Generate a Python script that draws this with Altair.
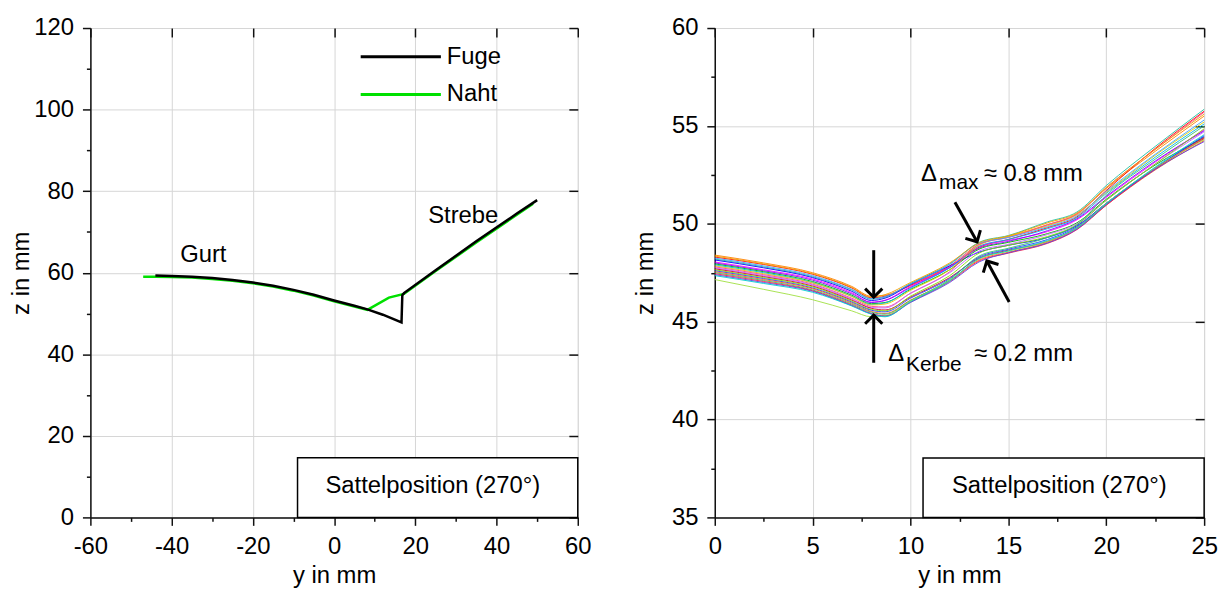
import altair as alt
import pandas as pd

FONT = "Liberation Sans"

# ---------------- Left panel data ----------------
fuge_y = [-44, -40, -35, -30, -25, -20, -15, -10, -5, 0, 5, 8.2, 12, 16.6, 16.8, 17.2, 25, 35, 45, 50]
fuge_z = [59.3, 59.2, 59.0, 58.7, 58.2, 57.6, 56.8, 55.8, 54.6, 53.2, 51.9, 51.0, 49.7, 47.8, 54.5, 55.0, 60.6, 67.7, 74.5, 77.8]
naht_y = [-47, -44, -40, -35, -30, -25, -20, -15, -10, -5, 0, 5, 8.2, 13.5, 17.2, 25, 35, 45, 49]
naht_z = [59.0, 59.0, 58.95, 58.8, 58.45, 58.0, 57.4, 56.6, 55.6, 54.4, 53.0, 51.7, 50.9, 53.9, 54.8, 60.4, 67.4, 74.2, 76.9]
series_names = ["Fuge", "Naht"]
series_colors = ["#000000", "#00e000"]

left_labels = ["Gurt", "Strebe"]
left_label_y = [-32.2, 31.8]
left_label_z = [64.4, 73.8]

left_x_major = [-60, -40, -20, 0, 20, 40, 60]
left_x_minor = [-50, -30, -10, 10, 30, 50]
left_y_major = [0, 20, 40, 60, 80, 100, 120]
left_y_minor = [10, 30, 50, 70, 90, 110]

left_box = {"y": [-9.0], "y2": [60.0], "z": [0.0], "z2": [14.6]}
left_box_text = {"y": [24.3], "z": [7.8], "t": ["Sattelposition (270°)"]}

# ---------------- Right panel data ----------------
run_y = [0, 2.5, 5, 7, 8, 8.7, 10, 12, 13.5, 15, 17, 18.5, 20, 22.5, 25]
runs = [
    [48.40, 48.00, 47.50, 46.80, 46.30, 46.35, 46.90, 47.85, 48.95, 49.35, 49.95, 50.50, 51.80, 53.70, 55.50],
    [48.30, 47.92, 47.42, 46.72, 46.22, 46.30, 46.85, 47.80, 48.80, 49.20, 49.80, 50.35, 51.70, 53.85, 55.75],
    [48.20, 47.80, 47.30, 46.62, 46.15, 46.25, 46.95, 47.95, 49.05, 49.40, 50.10, 50.60, 51.95, 53.95, 55.85],
    [48.15, 47.75, 47.25, 46.55, 46.08, 46.20, 46.90, 47.85, 48.55, 48.90, 49.30, 49.90, 51.05, 52.85, 54.45],
    [48.05, 47.65, 47.18, 46.48, 46.00, 46.10, 46.80, 47.80, 48.85, 49.15, 49.60, 50.20, 51.35, 53.15, 54.80],
    [48.00, 47.60, 47.12, 46.42, 45.98, 46.08, 46.75, 47.75, 48.75, 49.10, 49.65, 50.25, 51.40, 53.20, 54.75],
    [47.95, 47.55, 47.05, 46.35, 45.92, 45.98, 46.65, 47.65, 48.70, 49.05, 49.50, 50.05, 51.25, 53.00, 54.40],
    [47.90, 47.50, 47.00, 46.30, 45.88, 45.95, 46.70, 47.75, 48.85, 49.20, 49.75, 50.30, 51.55, 53.40, 55.10],
    [47.85, 47.45, 46.98, 46.28, 45.85, 45.90, 46.60, 47.65, 48.90, 49.35, 49.90, 50.45, 51.60, 53.50, 55.20],
    [47.80, 47.40, 46.92, 46.20, 45.78, 45.75, 46.45, 47.55, 48.95, 49.30, 49.95, 50.50, 51.85, 53.80, 55.70],
    [47.75, 47.35, 46.88, 46.15, 45.72, 45.70, 46.45, 47.50, 48.60, 48.95, 49.45, 50.00, 51.20, 53.05, 54.70],
    [47.70, 47.30, 46.82, 46.10, 45.68, 45.60, 46.25, 47.25, 48.25, 48.65, 49.10, 49.80, 51.00, 52.80, 54.35],
    [47.65, 47.25, 46.78, 46.05, 45.62, 45.55, 46.30, 47.35, 48.50, 48.90, 49.35, 49.95, 51.20, 53.05, 54.85],
    [47.60, 47.20, 46.72, 46.00, 45.58, 45.50, 46.20, 47.20, 48.30, 48.70, 49.20, 49.85, 51.05, 52.85, 54.50],
    [47.55, 47.15, 46.68, 45.95, 45.52, 45.42, 46.10, 47.10, 48.15, 48.55, 49.05, 49.75, 50.95, 52.75, 54.25],
    [47.50, 47.10, 46.62, 45.90, 45.48, 45.38, 46.08, 47.15, 48.35, 48.75, 49.30, 49.95, 51.45, 53.30, 55.00],
    [47.45, 47.05, 46.58, 45.85, 45.42, 45.30, 46.00, 47.05, 48.10, 48.50, 49.00, 49.70, 50.95, 52.80, 54.40],
    [47.15, 46.65, 46.12, 45.55, 45.25, 45.30, 46.05, 47.10, 48.20, 48.60, 49.10, 49.80, 51.05, 52.85, 54.30],
    [48.25, 47.85, 47.35, 46.65, 46.18, 46.28, 46.92, 47.92, 49.00, 49.30, 49.85, 50.40, 51.65, 53.55, 55.30],
    [48.35, 47.95, 47.45, 46.75, 46.26, 46.38, 47.00, 48.00, 49.02, 49.38, 50.05, 50.55, 51.85, 53.80, 55.60],
    [47.40, 47.00, 46.55, 45.82, 45.40, 45.28, 45.98, 47.00, 48.05, 48.52, 49.02, 49.72, 50.98, 52.78, 54.20],
    [47.35, 46.95, 46.50, 45.80, 45.38, 45.25, 46.02, 47.08, 48.22, 48.62, 49.15, 49.78, 51.02, 52.90, 54.55],
]
run_colors = ["#ff8000", "#ff0000", "#20c0a0", "#0000ff", "#ff00ff", "#8000ff", "#00b000",
              "#00b0f0", "#e0d000", "#ff4090", "#c060ff", "#d00030", "#80e000", "#2040ff",
              "#ff6020", "#30c070", "#ff2040", "#a0e040", "#40a0ff", "#f0a000", "#6040e0", "#00d0d0"]

right_x_major = [0, 5, 10, 15, 20, 25]
right_x_minor = [2.5, 7.5, 12.5, 17.5, 22.5]
right_y_major = [35, 40, 45, 50, 55, 60]
right_y_minor = [37.5, 42.5, 47.5, 52.5, 57.5]

arrow_y0 = [8.12, 8.12, 12.27, 15.04]
arrow_z0 = [48.65, 42.9, 51.1, 46.0]
arrow_y1 = [8.12, 8.12, 13.40, 13.90]
arrow_z1 = [46.25, 45.33, 49.08, 48.10]
arrow_angle = [0, 180, 331, 152]

ann_text = ["Δ", "max", "≈ 0.8 mm", "Δ", "Kerbe", "≈ 0.2 mm"]
ann_y = [10.53, 11.46, 13.74, 8.86, 9.77, 13.24]
ann_z = [52.18, 51.80, 52.18, 43.0, 42.5, 43.0]
ann_size = [24, 21, 24, 24, 21, 24]

right_box = {"y": [10.64], "y2": [25.0], "z": [35.0], "z2": [38.04]}
right_box_text = {"y": [17.6], "z": [36.6], "t": ["Sattelposition (270°)"]}

# ---------------- build tables ----------------
left_df = pd.DataFrame({
    "y": fuge_y + naht_y,
    "z": fuge_z + naht_z,
    "series": [series_names[0]] * len(fuge_y) + [series_names[1]] * len(naht_y),
    "o": list(range(len(fuge_y))) + list(range(len(naht_y))),
})
rows = []
for i, vals in enumerate(runs):
    for j, (yy, zz) in enumerate(zip(run_y, vals)):
        rows.append({"y": yy, "z": zz, "run": f"r{i:02d}", "o": j})
right_df = pd.DataFrame(rows)
arrow_df = pd.DataFrame({"y": arrow_y0, "z": arrow_z0, "y2": arrow_y1, "z2": arrow_z1, "ang": arrow_angle})
ann_df = pd.DataFrame({"y": ann_y, "z": ann_z, "t": ann_text, "fs": ann_size})

INK = "#111111"


def main_axis(values, title, tpad, lpad=9):
    return alt.Axis(values=values, title=title, grid=True, gridColor="#d6d6d6", gridWidth=1,
                    domainColor=INK, domainWidth=1.5, tickColor=INK, tickWidth=1.5, tickSize=8,
                    labelFont=FONT, labelFontSize=24, labelColor="black", labelPadding=lpad,
                    labelFlush=False, labelOverlap=False, labelExpr="'' + datum.value",
                    titleFont=FONT, titleFontSize=24, titleFontWeight="normal", titleColor="black",
                    titlePadding=tpad)


def minor_axis(values, orient):
    return alt.Axis(values=values, labels=False, title=None, grid=False, domain=False,
                    tickSize=4, tickWidth=1.5, tickColor=INK, orient=orient)


def mirror_axis(values, orient):
    return alt.Axis(values=values, labels=False, title=None, grid=False, domain=False,
                    tickSize=9, tickWidth=1.5, tickColor=INK, orient=orient, offset=-9)


def panel(df, line_layers, xdom, ydom, xmaj, xmin, ymaj, ymin, ytpad, box, boxtext, extra, w, h):
    xs = alt.Scale(domain=xdom, nice=False, zero=False)
    ys = alt.Scale(domain=ydom, nice=False, zero=False)
    base = alt.Chart(df)
    ticks_minor = base.mark_point(opacity=0).encode(
        x=alt.X("y:Q", scale=xs, axis=minor_axis(xmin, "bottom")),
        y=alt.Y("z:Q", scale=ys, axis=minor_axis(ymin, "left")))
    ticks_mirror = base.mark_point(opacity=0).encode(
        x=alt.X("y:Q", scale=xs, axis=mirror_axis(xmaj, "top")),
        y=alt.Y("z:Q", scale=ys, axis=mirror_axis(ymaj, "right")))
    main = base.mark_point(opacity=0).encode(
        x=alt.X("y:Q", scale=xs, axis=main_axis(xmaj, "y in mm", 6)),
        y=alt.Y("z:Q", scale=ys, axis=main_axis(ymaj, "z in mm", ytpad)))
    rect = alt.Chart(pd.DataFrame(box)).mark_rect(fill="white", stroke="black", strokeWidth=1.5).encode(
        x=alt.X("y:Q", scale=xs, axis=None), x2="y2:Q",
        y=alt.Y("z:Q", scale=ys, axis=None), y2="z2:Q")
    rtext = alt.Chart(pd.DataFrame(boxtext)).mark_text(font=FONT, fontSize=24, color="black",
                                                        align="center", baseline="middle").encode(
        x=alt.X("y:Q", scale=xs, axis=None), y=alt.Y("z:Q", scale=ys, axis=None), text="t:N")
    layers = [main, ticks_minor, ticks_mirror, rect, rtext] + [l(xs, ys) for l in line_layers] + [e(xs, ys) for e in extra]
    return alt.layer(*layers).resolve_axis(x="independent", y="independent").properties(width=w, height=h)


# left panel layers
color_left = alt.Color("series:N", scale=alt.Scale(domain=series_names, range=series_colors),
                       legend=alt.Legend(orient="none", legendX=331, legendY=17, title=None,
                                         symbolType="M-7,0L1,0", symbolSize=408, symbolStrokeWidth=3,
                                         labelFont=FONT, labelFontSize=24, labelColor="black",
                                         rowPadding=14, padding=0, labelOffset=4))


def naht_layer(xs, ys):
    return alt.Chart(left_df).transform_filter(alt.datum.series == "Naht").mark_line(strokeWidth=2.5).encode(
        x=alt.X("y:Q", scale=xs, axis=None), y=alt.Y("z:Q", scale=ys, axis=None),
        color=color_left, order="o:Q")


def fuge_layer(xs, ys):
    return alt.Chart(left_df).transform_filter(alt.datum.series == "Fuge").mark_line(strokeWidth=2.5).encode(
        x=alt.X("y:Q", scale=xs, axis=None), y=alt.Y("z:Q", scale=ys, axis=None),
        color=color_left, order="o:Q")


def left_text(xs, ys):
    return alt.Chart(pd.DataFrame({"y": left_label_y, "z": left_label_z, "t": left_labels})).mark_text(
        font=FONT, fontSize=24, color="black", align="center", baseline="middle").encode(
        x=alt.X("y:Q", scale=xs, axis=None), y=alt.Y("z:Q", scale=ys, axis=None), text="t:N")


left = panel(left_df, [naht_layer, fuge_layer], [-60, 60], [0, 120], left_x_major, left_x_minor,
             left_y_major, left_y_minor, 0, left_box, left_box_text, [left_text], 491, 493)


def runs_layer(xs, ys):
    return alt.Chart(right_df).mark_line(strokeWidth=0.9, interpolate="monotone").encode(
        x=alt.X("y:Q", scale=xs, axis=None), y=alt.Y("z:Q", scale=ys, axis=None),
        color=alt.Color("run:N", scale=alt.Scale(range=run_colors), legend=None), order="o:Q")


def arrows_layer(xs, ys):
    return alt.Chart(arrow_df).mark_rule(strokeWidth=3, color="black").encode(
        x=alt.X("y:Q", scale=xs, axis=None), y=alt.Y("z:Q", scale=ys, axis=None), x2="y2:Q", y2="z2:Q")


def heads_layer(xs, ys):
    return alt.Chart(arrow_df).mark_point(shape="M-1,-1L0,0L1,-1", filled=False, strokeWidth=3,
                                          size=300, color="black", opacity=1).encode(
        x=alt.X("y2:Q", scale=xs, axis=None), y=alt.Y("z2:Q", scale=ys, axis=None),
        angle=alt.Angle("ang:Q", scale=None))


def ann_layer(xs, ys):
    return alt.Chart(ann_df).mark_text(font=FONT, color="black", align="left", baseline="alphabetic").encode(
        x=alt.X("y:Q", scale=xs, axis=None), y=alt.Y("z:Q", scale=ys, axis=None), text="t:N",
        size=alt.Size("fs:Q", scale=None))


right = panel(right_df, [runs_layer], [0, 25], [35, 60], right_x_major, right_x_minor,
              right_y_major, right_y_minor, 14, right_box, right_box_text,
              [arrows_layer, heads_layer, ann_layer], 493, 493)

chart = alt.hconcat(left, right, spacing=41).resolve_scale(color="independent").properties(
    padding={"left": 1, "top": 5, "right": 5, "bottom": 5}).configure_view(
    stroke="black", strokeWidth=1.5).configure(background="white")

chart.save("out.html", embed_options={"renderer": "svg", "actions": False})
